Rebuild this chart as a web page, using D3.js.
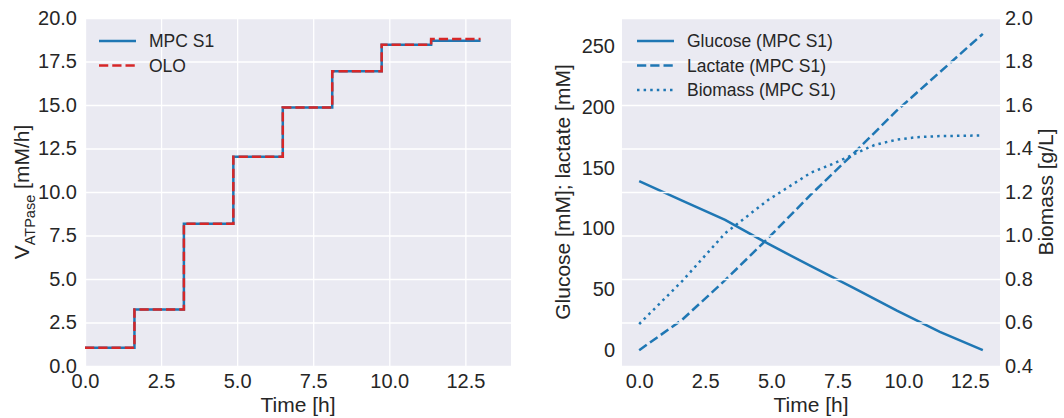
<!DOCTYPE html>
<html>
<head>
<meta charset="utf-8">
<script src="https://cdn.jsdelivr.net/npm/d3@7"></script>
<style>
  body { margin: 0; background: #fff; }
  svg { display: block; font-family: 'Liberation Sans', Arial, sans-serif; }
</style>
</head>
<body>
<svg id="chart" width="1064" height="418"></svg>
<script>
// step times and the applied V_ATPase (left panel)
const stepTimes = [0, 1.625, 3.25, 4.875, 6.5, 8.125, 9.75, 11.375, 13];
const vMpcS1 = [1.05, 3.25, 8.17, 12.02, 14.85, 16.94, 18.46, 18.69, 18.69];
const vOlo = [1.05, 3.25, 8.17, 12.02, 14.85, 16.94, 18.46, 18.79, 18.79];

// concentrations (right panel)
const glucose = [139, 123, 107, 87.5, 69, 51, 32.5, 15, 0];
const lactate = [0, 25, 57.5, 92, 128, 162, 197, 228.5, 260];
const bioTimes = [0, 1.625, 3.25, 4.875, 6.5, 7.3, 8.125, 8.9, 9.75, 10.5, 11.375, 13];
const biomass = [0.593, 0.79, 1.01, 1.163, 1.289, 1.328, 1.374, 1.416, 1.441, 1.452, 1.457, 1.46];

// ticks
const timeTicks = [0, 2.5, 5, 7.5, 10, 12.5];
const vTicks = [0, 2.5, 5, 7.5, 10, 12.5, 15, 17.5, 20];
const concTicks = [0, 50, 100, 150, 200, 250];
const bioTicks = [0.4, 0.6, 0.8, 1.0, 1.2, 1.4, 1.6, 1.8, 2.0];

const bg = '#eaeaf2';
const ink = '#262626';
const blue = '#1f77b4';
const red = '#d62728';
const tickFont = 20;
const labelFont = 21;
const legendFont = 17.5;

const plotTop = 18, plotBottom = 366;
const svg = d3.select('#chart');

const styleAxis = (g) => {
    g.select('.domain').remove();
    g.selectAll('.tick line').remove();
    g.selectAll('.tick text')
        .attr('fill', ink)
        .attr('font-size', tickFont)
        .attr('font-family', 'Liberation Sans, Arial, sans-serif');
};

const styleGrid = (g) => {
    g.select('.domain').remove();
    g.selectAll('.tick text').remove();
    g.selectAll('.tick line').attr('stroke', '#fff').attr('stroke-width', 1.3);
};

const drawLegend = (g, x, y, items) => {
    items.forEach((it, i) => {
        const yy = y + i * 24.5;
        g.append('line')
            .attr('x1', x).attr('x2', x + 37)
            .attr('y1', yy).attr('y2', yy)
            .attr('stroke', it.color)
            .attr('stroke-width', 2.5)
            .attr('stroke-dasharray', it.dash || null);
        g.append('text')
            .attr('x', x + 50).attr('y', yy + 6)
            .attr('font-size', legendFont)
            .attr('fill', ink)
            .text(it.label);
    });
};

// ---------- left panel ----------
const L = { left: 85, right: 511 };
const xL = d3.scaleLinear().domain([0, 14]).range([L.left, L.right]);
const yL = d3.scaleLinear().domain([0, 20]).range([plotBottom, plotTop]);

const gLeft = svg.append('g');
gLeft.append('rect')
    .attr('x', L.left).attr('y', plotTop)
    .attr('width', L.right - L.left).attr('height', plotBottom - plotTop)
    .attr('fill', bg);

gLeft.append('g')
    .attr('transform', `translate(0,${plotBottom})`)
    .call(d3.axisBottom(xL).tickValues(timeTicks).tickSizeInner(-(plotBottom - plotTop)).tickSizeOuter(0))
    .call(styleGrid);
gLeft.append('g')
    .attr('transform', `translate(${L.left},0)`)
    .call(d3.axisLeft(yL).tickValues(vTicks).tickSizeInner(-(L.right - L.left)).tickSizeOuter(0))
    .call(styleGrid);

const stepLine = (vals) => d3.line()
    .x((d, i) => xL(stepTimes[i]))
    .y((d) => yL(d))
    .curve(d3.curveStepAfter)(vals);

gLeft.append('path')
    .attr('d', stepLine(vMpcS1))
    .attr('fill', 'none')
    .attr('stroke', blue)
    .attr('stroke-width', 2.5);
gLeft.append('path')
    .attr('d', stepLine(vOlo))
    .attr('fill', 'none')
    .attr('stroke', red)
    .attr('stroke-width', 2.5)
    .attr('stroke-dasharray', '9.25,4');

gLeft.append('g')
    .attr('transform', `translate(0,${plotBottom})`)
    .call(d3.axisBottom(xL).tickValues(timeTicks).tickFormat(d3.format('.1f')).tickSize(0).tickPadding(8))
    .call(styleAxis);
gLeft.append('g')
    .attr('transform', `translate(${L.left},0)`)
    .call(d3.axisLeft(yL).tickValues(vTicks).tickFormat(d3.format('.1f')).tickSize(0).tickPadding(8))
    .call(styleAxis);

gLeft.append('text')
    .attr('x', (L.left + L.right) / 2).attr('y', 412)
    .attr('text-anchor', 'middle')
    .attr('font-size', labelFont)
    .attr('fill', ink)
    .text('Time [h]');

const vLabel = gLeft.append('text')
    .attr('transform', `translate(28.5,${(plotTop + plotBottom) / 2}) rotate(-90)`)
    .attr('text-anchor', 'middle')
    .attr('font-size', labelFont)
    .attr('fill', ink);
vLabel.append('tspan').text('V');
vLabel.append('tspan').attr('font-size', 14.5).attr('dy', 6).text('ATPase');
vLabel.append('tspan').attr('dy', -6).text(' [mM/h]');

drawLegend(gLeft.append('g'), 99, 41, [
    { label: 'MPC S1', color: blue },
    { label: 'OLO', color: red, dash: '9.25,4' }
]);

// ---------- right panel ----------
const R = { left: 622, right: 1000 };
const xR = d3.scaleLinear().domain([-0.65, 13.65]).range([R.left, R.right]);
const yC = d3.scaleLinear().domain([-13, 273]).range([plotBottom, plotTop]);
const yB = d3.scaleLinear().domain([0.4, 2.0]).range([plotBottom, plotTop]);

const gRight = svg.append('g');
gRight.append('rect')
    .attr('x', R.left).attr('y', plotTop)
    .attr('width', R.right - R.left).attr('height', plotBottom - plotTop)
    .attr('fill', bg);

const concLine = d3.line()
    .x((d, i) => xR(stepTimes[i]))
    .y((d) => yC(d));

gRight.append('path')
    .attr('d', concLine(glucose))
    .attr('fill', 'none')
    .attr('stroke', blue)
    .attr('stroke-width', 2.5);
gRight.append('path')
    .attr('d', concLine(lactate))
    .attr('fill', 'none')
    .attr('stroke', blue)
    .attr('stroke-width', 2.5)
    .attr('stroke-dasharray', '9.25,4');

// twin axis grid sits over the concentration lines
gRight.append('g')
    .attr('transform', `translate(${R.right},0)`)
    .call(d3.axisRight(yB).tickValues(bioTicks).tickSizeInner(-(R.right - R.left)).tickSizeOuter(0))
    .call(styleGrid);

gRight.append('path')
    .attr('d', d3.line().x((d, i) => xR(bioTimes[i])).y((d) => yB(d))(biomass))
    .attr('fill', 'none')
    .attr('stroke', blue)
    .attr('stroke-width', 2.5)
    .attr('stroke-dasharray', '2.5,4.1');

gRight.append('g')
    .attr('transform', `translate(0,${plotBottom})`)
    .call(d3.axisBottom(xR).tickValues(timeTicks).tickFormat(d3.format('.1f')).tickSize(0).tickPadding(8))
    .call(styleAxis);
gRight.append('g')
    .attr('transform', `translate(${R.left},0)`)
    .call(d3.axisLeft(yC).tickValues(concTicks).tickFormat(d3.format('d')).tickSize(0).tickPadding(7))
    .call(styleAxis);
gRight.append('g')
    .attr('transform', `translate(${R.right},0)`)
    .call(d3.axisRight(yB).tickValues(bioTicks).tickFormat(d3.format('.1f')).tickSize(0).tickPadding(5))
    .call(styleAxis);

gRight.append('text')
    .attr('x', (R.left + R.right) / 2).attr('y', 412)
    .attr('text-anchor', 'middle')
    .attr('font-size', labelFont)
    .attr('fill', ink)
    .text('Time [h]');

gRight.append('text')
    .attr('transform', `translate(570,${(plotTop + plotBottom) / 2}) rotate(-90)`)
    .attr('text-anchor', 'middle')
    .attr('font-size', labelFont)
    .attr('fill', ink)
    .text('Glucose [mM]; lactate [mM]');

gRight.append('text')
    .attr('transform', `translate(1053,${(plotTop + plotBottom) / 2}) rotate(-90)`)
    .attr('text-anchor', 'middle')
    .attr('font-size', labelFont)
    .attr('fill', ink)
    .text('Biomass [g/L]');

drawLegend(gRight.append('g'), 637, 41, [
    { label: 'Glucose (MPC S1)', color: blue },
    { label: 'Lactate (MPC S1)', color: blue, dash: '9.25,4' },
    { label: 'Biomass (MPC S1)', color: blue, dash: '2.5,4.1' }
]);
</script>
</body>
</html>
